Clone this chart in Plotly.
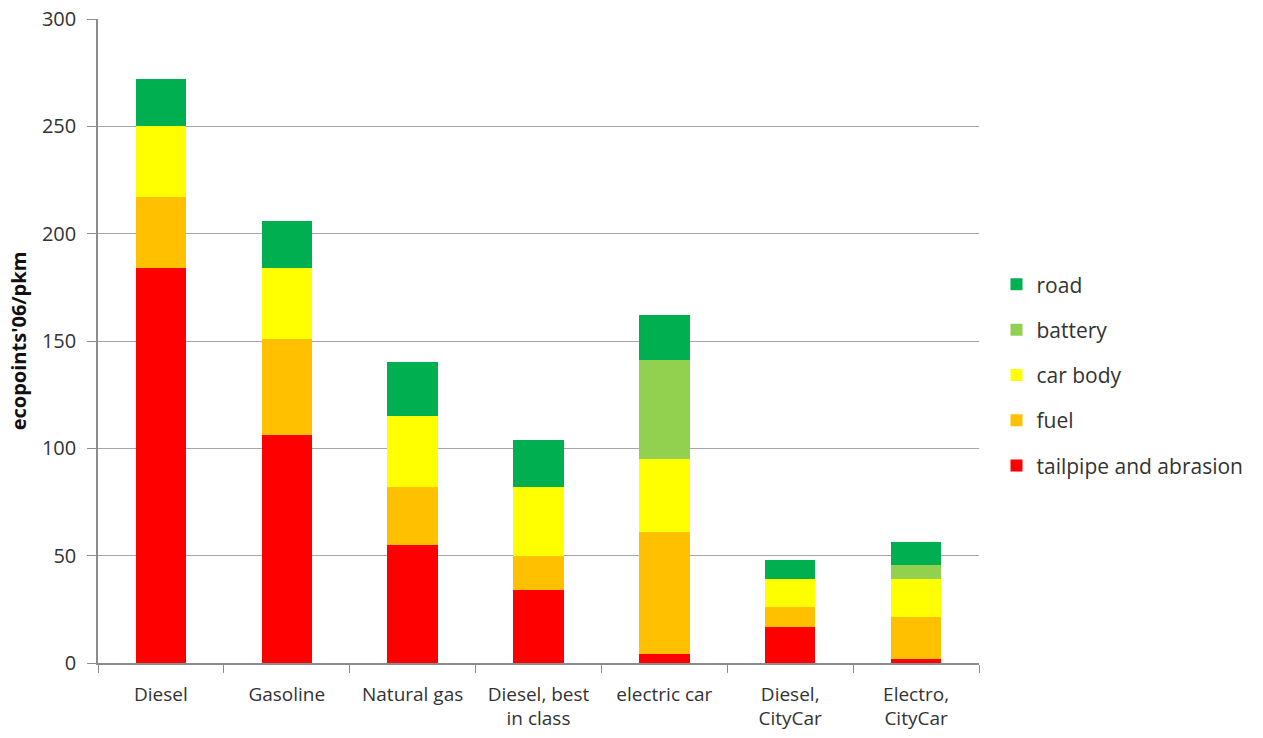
import plotly.graph_objects as go

categories = ["Diesel", "Gasoline", "Natural gas", "Diesel, best<br>in class",
              "electric car", "Diesel,<br>CityCar", "Electro,<br>CityCar"]
tailpipe = [184, 106, 55, 34, 4, 17, 2]
fuel = [33, 45, 27, 16, 57, 9, 19.5]
car_body = [33, 33, 33, 32, 34, 13, 17.5]
battery = [0, 0, 0, 0, 46, 0, 6.5]
road = [22, 22, 25, 22, 21, 9, 11]

series = [
    ("tailpipe and abrasion", tailpipe, "#FF0000", 5),
    ("fuel", fuel, "#FFC000", 4),
    ("car body", car_body, "#FFFF00", 3),
    ("battery", battery, "#92D050", 2),
    ("road", road, "#00B050", 1),
]

fig = go.Figure()
for name, vals, col, rank in series:
    fig.add_trace(go.Bar(x=categories, y=vals, name=name, marker_color=col,
                         marker_line_width=0, legendgroup=name, legendrank=rank))

font_family = "Open Sans, DejaVu Sans, sans-serif"
fig.update_layout(
    width=1263, height=738,
    barmode="stack", bargap=0.6,
    plot_bgcolor="white", paper_bgcolor="white",
    margin=dict(l=98, r=284, t=19, b=75),
    font=dict(family=font_family, size=18, color="#333333"),
    legend=dict(xref="container", yref="container", x=0.789, y=0.642,
                xanchor="left", yanchor="top", traceorder="grouped",
                tracegroupgap=15, itemwidth=30,
                font=dict(size=21, color="#333333")),
    xaxis=dict(showline=True, linecolor="#8c8c8c", linewidth=1.5, automargin=False,
               ticks="outside", tickson="boundaries", ticklen=8, tickcolor="#8c8c8c",
               ticklabelstandoff=13,
               tickfont=dict(size=19, color="#333333")),
    yaxis=dict(range=[0, 300], dtick=50, showline=True, linecolor="#8c8c8c", linewidth=1.5,
               automargin=False,
               showgrid=True, gridcolor="#a6a6a6", gridwidth=1.2,
               ticks="outside", ticklen=9, tickcolor="#8c8c8c",
               ticklabelstandoff=7,
               tickfont=dict(size=20, color="#333333"), zeroline=False,
               title=dict(text="<b>ecopoints'06/pkm</b>", font=dict(size=20, color="#111111"),
                          standoff=10)),
)

fig.write_html("out.html")
